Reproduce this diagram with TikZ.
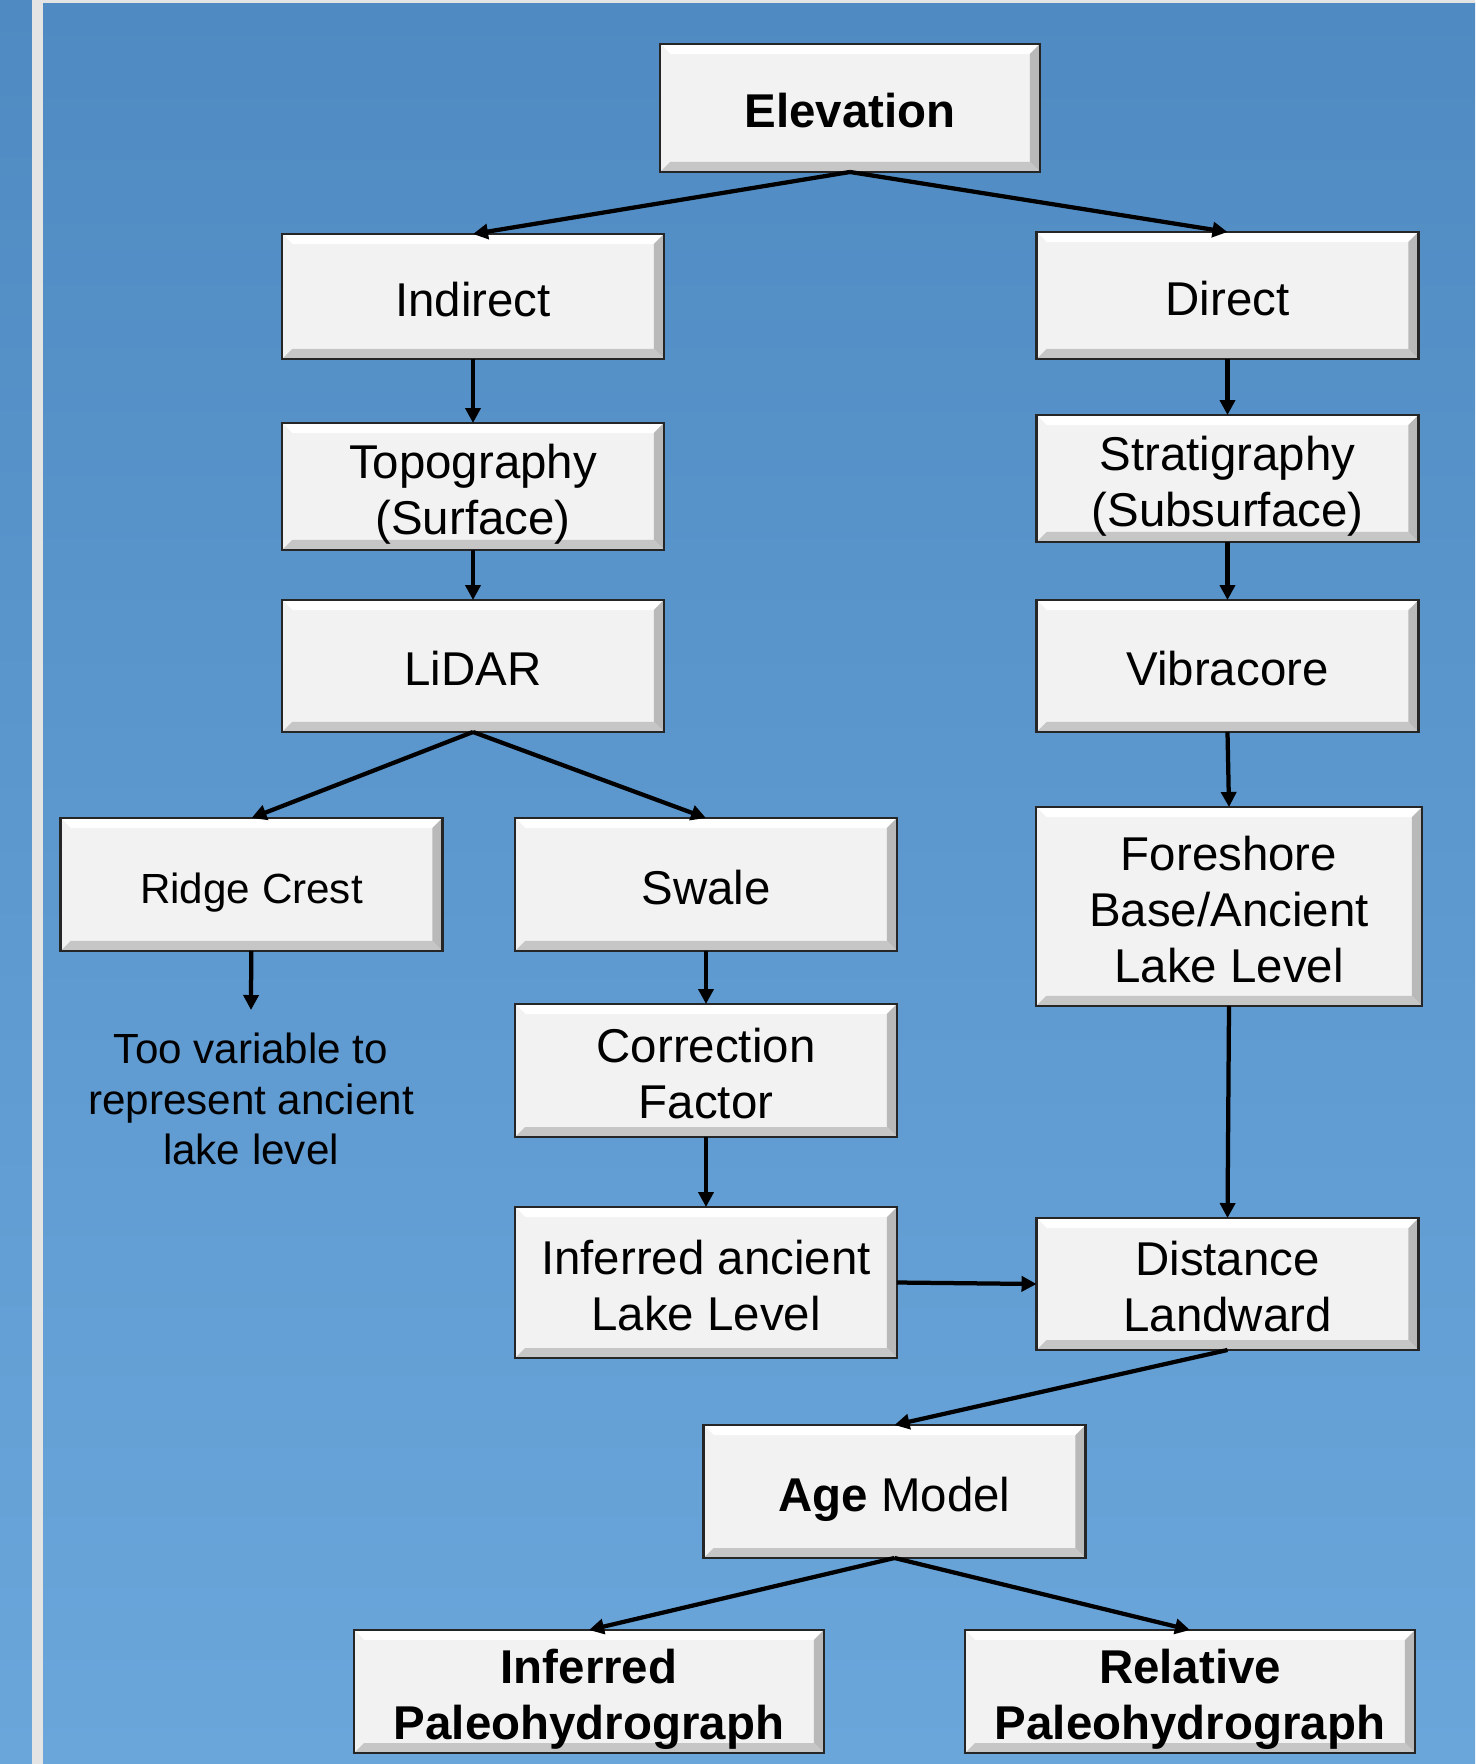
\documentclass[tikz,border=0pt]{standalone}
\usepackage{fontspec}
\setmainfont{Liberation Sans}
\usetikzlibrary{arrows.meta,backgrounds}
\definecolor{bgtop}{HTML}{4F8BC2}
\definecolor{bgbot}{HTML}{6BA6DB}
\definecolor{stripe}{HTML}{E4E4E4}
\definecolor{boxfill}{HTML}{F2F2F2}
\newcommand\boxfont{\fontsize{27}{32}\selectfont}
\newcommand\notefont{\fontsize{24}{28.8}\selectfont}
\newcommand\bevw{0.2cm}
\newcommand\bt[1]{\raisebox{-0.17cm}[\height][\depth]{\begin{tabular}{@{}c@{}}#1\end{tabular}}}
\begin{document}
\begin{tikzpicture}[x=0.02cm,y=-0.02cm,
  box/.style={rectangle,minimum width=7.64cm,minimum height=2.64cm,
    inner sep=0pt,outer sep=0pt,align=center,font=\boxfont},
  arr/.style={-{Triangle[length=0.3cm,width=0.3cm]},line width=0.085cm}]
  \useasboundingbox (0,0) rectangle (1475,1764);
  \node[box,minimum width=7.6cm,minimum height=2.56cm,font=\boxfont\bfseries] (elev) at (850,108) {\bt{Elevation}};
    \node[box,minimum height=2.5cm] (indirect) at (473,296.5) {\bt{Indirect}};
    \node[box,minimum height=2.54cm] (direct) at (1227.5,295.5) {\bt{Direct}};
    \node[box,minimum height=2.54cm] (topo) at (473,486.5) {\bt{Topography\\(Surface)}};
    \node[box,minimum height=2.54cm] (strat) at (1227.5,478.5) {\bt{Stratigraphy\\(Subsurface)}};
    \node[box] (lidar) at (473,666) {\bt{LiDAR}};
    \node[box] (vibra) at (1227.5,666) {\bt{Vibracore}};
    \node[box,minimum height=2.66cm,font=\notefont] (ridge) at (251.5,884.5) {\bt{Ridge Crest}};
    \node[box,minimum height=2.66cm] (swale) at (706,884.5) {\bt{Swale}};
    \node[box,minimum width=7.72cm,minimum height=3.98cm] (fore) at (1229,906.5) {\bt{Foreshore\\Base/Ancient\\Lake Level}};
    \node[box,minimum height=2.66cm] (corr) at (706,1070.5) {\bt{Correction\\Factor}};
    \node[box,minimum height=3.02cm] (infer) at (706,1282.5) {\bt{Inferred ancient\\Lake Level}};
    \node[box] (dist) at (1227.5,1284) {\bt{Distance\\Landward}};
    \node[box,minimum height=2.66cm] (age) at (894.5,1491.5) {\bt{\textbf{Age} Model}};
    \node[box,minimum width=9.4cm,minimum height=2.46cm,font=\boxfont\bfseries] (ipal) at (589,1691.5) {\bt{Inferred\\Paleohydrograph}};
    \node[box,minimum width=9.0cm,minimum height=2.46cm,font=\boxfont\bfseries] (rpal) at (1190,1691.5) {\bt{Relative\\Paleohydrograph}};
    \node[align=center,font=\notefont] (note) at (251,1099) {Too variable to\\represent ancient\\lake level};
    \coordinate (rend) at (251,1010);
  \begin{scope}[on background layer]
    \shade[top color=bgtop,bottom color=bgbot] (0,0) rectangle (32,1764);
    \fill[stripe] (32,0) rectangle (43,1764);
    \shade[top color=bgtop,bottom color=bgbot] (43,3) rectangle (1475,1764);
    \fill[stripe] (43,0) rectangle (1475,3);
    \foreach \n in {elev,indirect,direct,topo,strat,lidar,vibra,ridge,swale,fore,corr,infer,dist,age,ipal,rpal} {
      \fill[boxfill] (\n.north west) rectangle (\n.south east);
      \fill[white] (\n.north west) -- (\n.north east) -- ([shift={(-\bevw,-\bevw)}]\n.north east) -- ([shift={(\bevw,-\bevw)}]\n.north west) -- cycle;
      \fill[gray!10] (\n.north west) -- ([shift={(\bevw,-\bevw)}]\n.north west) -- ([shift={(\bevw,\bevw)}]\n.south west) -- (\n.south west) -- cycle;
      \fill[gray!55] (\n.north east) -- (\n.south east) -- ([shift={(-\bevw,\bevw)}]\n.south east) -- ([shift={(-\bevw,-\bevw)}]\n.north east) -- cycle;
      \fill[gray!45] (\n.south west) -- ([shift={(\bevw,\bevw)}]\n.south west) -- ([shift={(-\bevw,\bevw)}]\n.south east) -- (\n.south east) -- cycle;
      \draw[line width=0.05cm,black!85] (\n.north west) rectangle (\n.south east);
    }
  \end{scope}
  \draw[arr] (elev.south) -- (indirect.north);
  \draw[arr] (elev.south) -- (direct.north);
  \draw[arr] (indirect) -- (topo);
  \draw[arr] (topo) -- (lidar);
  \draw[arr] (direct) -- (strat);
  \draw[arr] (strat) -- (vibra);
  \draw[arr] (vibra.south) -- (fore.north);
  \draw[arr] (lidar.south) -- (ridge.north);
  \draw[arr] (lidar.south) -- (swale.north);
  \draw[arr] (ridge) -- (rend);
  \draw[arr] (swale) -- (corr);
  \draw[arr] (corr) -- (infer);
  \draw[arr] (fore.south) -- (dist.north);
  \draw[arr] (infer.east) -- (dist.west);
  \draw[arr] (dist.south) -- (age.north);
  \draw[arr] (age.south) -- (ipal.north);
  \draw[arr] (age.south) -- (rpal.north);
\end{tikzpicture}
\end{document}
